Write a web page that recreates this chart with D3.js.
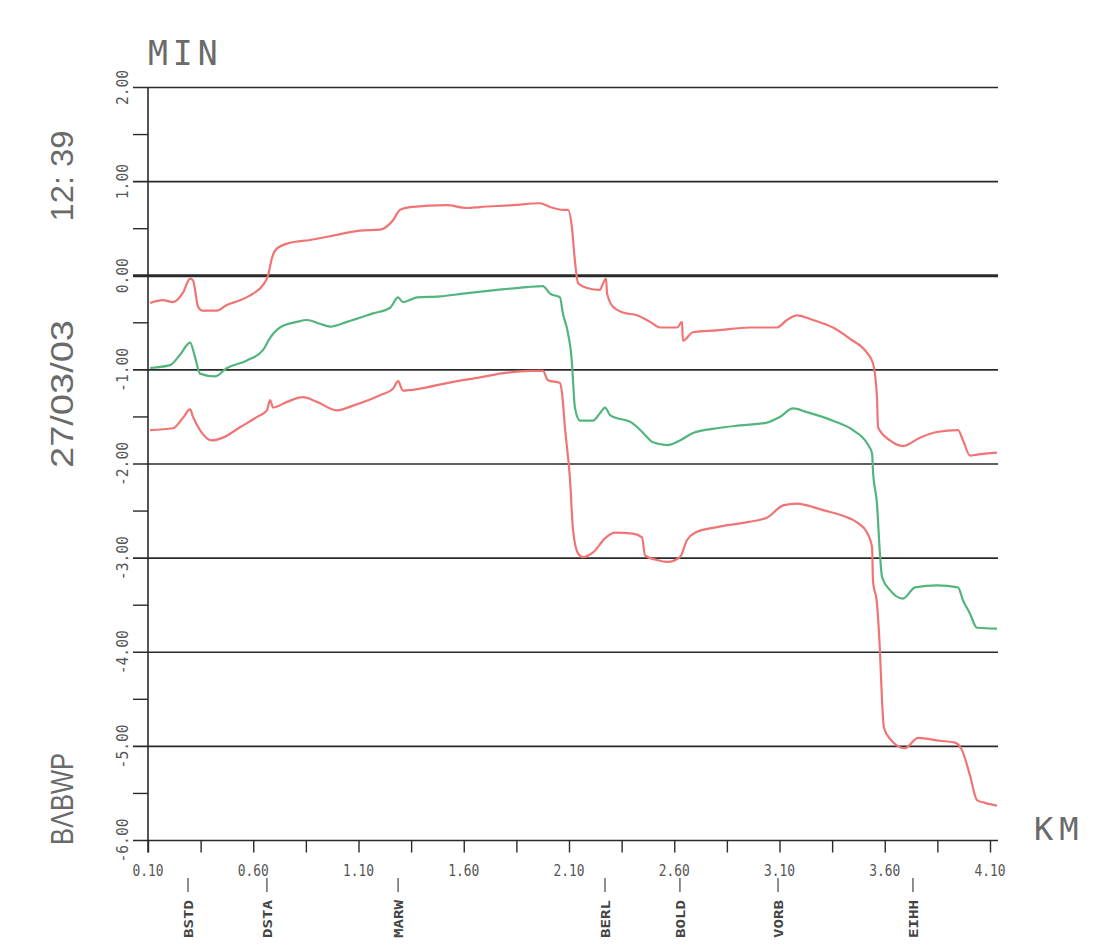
<!DOCTYPE html>
<html>
<head>
<meta charset="utf-8">
<script src="https://cdn.jsdelivr.net/npm/d3@7"></script>
<style>
  body { margin: 0; background: #fff; }
  svg { display: block; }
</style>
</head>
<body>
<div id="chart"></div>
<script>
// delay profile, minutes vs km
const upperRed = [
  [0.11, -0.29], [0.171, -0.26], [0.219, -0.28], [0.266, -0.18], [0.30, -0.03], [0.314, -0.05],
  [0.338, -0.33], [0.357, -0.37], [0.428, -0.37], [0.475, -0.31], [0.537, -0.26], [0.599, -0.19],
  [0.646, -0.10], [0.67, 0.00], [0.689, 0.19], [0.713, 0.29], [0.775, 0.35], [0.87, 0.38],
  [0.965, 0.42], [1.107, 0.48], [1.202, 0.49], [1.264, 0.59], [1.297, 0.70], [1.345, 0.73],
  [1.52, 0.75], [1.615, 0.72], [1.677, 0.73], [1.834, 0.75], [1.962, 0.77], [2.01, 0.73],
  [2.071, 0.70], [2.095, 0.70], [2.114, 0.51], [2.128, 0.16], [2.143, -0.08], [2.186, -0.13],
  [2.247, -0.15], [2.262, -0.08], [2.276, -0.03], [2.281, -0.19], [2.309, -0.33], [2.357, -0.39],
  [2.423, -0.42], [2.485, -0.49], [2.532, -0.55], [2.613, -0.55], [2.637, -0.49], [2.641, -0.69],
  [2.689, -0.60], [2.803, -0.58], [2.96, -0.55], [3.088, -0.55], [3.135, -0.47], [3.183, -0.42],
  [3.259, -0.47], [3.354, -0.55], [3.435, -0.67], [3.516, -0.82], [3.544, -0.93], [3.563, -1.29],
  [3.568, -1.61], [3.625, -1.75], [3.687, -1.81], [3.767, -1.72], [3.848, -1.66], [3.948, -1.64],
  [3.972, -1.75], [4.005, -1.91], [4.038, -1.90], [4.133, -1.88]
];
const middleGreen = [
  [0.11, -0.98], [0.205, -0.95], [0.252, -0.84], [0.30, -0.71], [0.323, -0.86], [0.347, -1.04],
  [0.418, -1.07], [0.475, -0.98], [0.57, -0.90], [0.646, -0.79], [0.68, -0.66], [0.727, -0.55],
  [0.808, -0.49], [0.855, -0.47], [0.917, -0.51], [0.965, -0.54], [1.045, -0.49], [1.169, -0.40],
  [1.25, -0.34], [1.288, -0.23], [1.311, -0.28], [1.378, -0.23], [1.487, -0.22], [1.596, -0.19],
  [1.758, -0.15], [1.90, -0.12], [1.976, -0.11], [2.01, -0.19], [2.057, -0.23], [2.071, -0.40],
  [2.095, -0.61], [2.114, -0.93], [2.119, -1.11], [2.128, -1.40], [2.152, -1.54], [2.214, -1.54],
  [2.247, -1.46], [2.271, -1.40], [2.295, -1.48], [2.404, -1.57], [2.452, -1.67], [2.499, -1.77],
  [2.566, -1.80], [2.627, -1.75], [2.689, -1.67], [2.803, -1.62], [2.912, -1.59], [3.04, -1.56],
  [3.102, -1.50], [3.164, -1.41], [3.231, -1.45], [3.354, -1.54], [3.449, -1.64], [3.516, -1.78],
  [3.54, -1.89], [3.544, -2.07], [3.563, -2.42], [3.577, -2.95], [3.587, -3.20], [3.625, -3.34],
  [3.687, -3.43], [3.744, -3.31], [3.848, -3.29], [3.948, -3.31], [3.972, -3.45], [4.005, -3.59],
  [4.038, -3.74], [4.133, -3.75]
];
const lowerRed = [
  [0.11, -1.64], [0.219, -1.62], [0.266, -1.51], [0.30, -1.42], [0.314, -1.50], [0.347, -1.64],
  [0.404, -1.75], [0.456, -1.72], [0.537, -1.61], [0.618, -1.50], [0.665, -1.43], [0.68, -1.32],
  [0.694, -1.40], [0.76, -1.34], [0.836, -1.29], [0.903, -1.34], [0.998, -1.43], [1.074, -1.38],
  [1.202, -1.27], [1.264, -1.20], [1.288, -1.12], [1.311, -1.22], [1.392, -1.20], [1.52, -1.14],
  [1.677, -1.08], [1.805, -1.03], [1.915, -1.01], [1.976, -1.01], [2.0, -1.11], [2.057, -1.14],
  [2.067, -1.25], [2.081, -1.62], [2.105, -2.17], [2.119, -2.70], [2.143, -2.95], [2.166, -2.99],
  [2.214, -2.94], [2.271, -2.79], [2.319, -2.73], [2.404, -2.74], [2.447, -2.78], [2.461, -2.97],
  [2.518, -3.02], [2.57, -3.04], [2.627, -2.99], [2.66, -2.81], [2.698, -2.73], [2.803, -2.67],
  [2.912, -2.63], [3.04, -2.57], [3.117, -2.44], [3.183, -2.42], [3.231, -2.44], [3.307, -2.49],
  [3.402, -2.55], [3.468, -2.62], [3.516, -2.73], [3.54, -2.89], [3.544, -3.24], [3.563, -3.48],
  [3.577, -3.98], [3.587, -4.51], [3.596, -4.80], [3.625, -4.92], [3.696, -5.02], [3.758, -4.91],
  [3.862, -4.94], [3.934, -4.96], [3.967, -5.04], [4.005, -5.31], [4.038, -5.57], [4.076, -5.60],
  [4.133, -5.63]
];

const yTickValues = [2, 1, 0, -1, -2, -3, -4, -5, -6];
const yTickLabels = ["2.00", "1.00", "0.00", "-1.00", "-2.00", "-3.00", "-4.00", "-5.00", "-6.00"];
const xLabelValues = [0.10, 0.60, 1.10, 1.60, 2.10, 2.60, 3.10, 3.60, 4.10];
const xTickLabels = ["0.10", "0.60", "1.10", "1.60", "2.10", "2.60", "3.10", "3.60", "4.10"];
const stationNames = ["BSTD", "DSTA", "MARW", "BERL", "BOLD", "VORB", "EIHH"];
const stationKm = [0.29, 0.665, 1.288, 2.271, 2.627, 3.093, 3.734];

const width = 1108, height = 945;
const red = "#f07474", green = "#52b57c", ink = "#2a2a2a", grey = "#6a6a6a";
const mono = "'DejaVu Sans Mono', monospace";
const sans = "'Liberation Sans', Arial, sans-serif";

const svg = d3.select("#chart").append("svg")
  .attr("width", width).attr("height", height);
svg.append("rect").attr("width", width).attr("height", height).attr("fill", "#fff");

const x = d3.scaleLinear().domain([0.10, 4.138]).range([148, 998]);
const y = d3.scaleLinear().domain([-6, 2]).range([840.5, 87.5]);
const gridLeft = 133;

// horizontal grid lines at whole minutes
svg.append("g")
  .selectAll("line")
  .data(yTickValues)
  .join("line")
  .attr("x1", gridLeft)
  .attr("x2", x.range()[1])
  .attr("y1", (d) => y(d))
  .attr("y2", (d) => y(d))
  .attr("stroke", ink)
  .attr("stroke-width", (d) => (d === 0 ? 3 : 1.6));

// half-minute ticks on the left
svg.append("g")
  .selectAll("line")
  .data(d3.range(-5.5, 2, 1))
  .join("line")
  .attr("x1", gridLeft)
  .attr("x2", x.range()[0])
  .attr("y1", (d) => y(d))
  .attr("y2", (d) => y(d))
  .attr("stroke", ink)
  .attr("stroke-width", 1.4);

// y axis line
svg.append("line")
  .attr("x1", x.range()[0]).attr("x2", x.range()[0])
  .attr("y1", y(2)).attr("y2", y(-6) + 12)
  .attr("stroke", ink).attr("stroke-width", 1.6);

// y labels, rotated
svg.append("g")
  .selectAll("text")
  .data(yTickValues)
  .join("text")
  .attr("transform", (d) => `translate(128,${y(d)}) rotate(-90)`)
  .attr("text-anchor", "middle")
  .attr("font-family", mono)
  .attr("font-size", 16)
  .attr("textLength", (d, i) => yTickLabels[i].length * 8.8)
  .attr("lengthAdjust", "spacingAndGlyphs")
  .attr("fill", "#555")
  .text((d, i) => yTickLabels[i]);

// x axis ticks every quarter km
const xAxis = d3.axisBottom(x)
  .tickValues(d3.range(0, 17).map((i) => 0.10 + i * 0.25))
  .tickSize(12)
  .tickFormat("");
const gx = svg.append("g")
  .attr("transform", `translate(0,${y(-6)})`)
  .call(xAxis);
gx.select(".domain").remove();
gx.selectAll(".tick line").attr("stroke", ink).attr("stroke-width", 1.4);

svg.append("g")
  .selectAll("text")
  .data(xLabelValues)
  .join("text")
  .attr("x", (d) => x(d))
  .attr("y", 876)
  .attr("text-anchor", "middle")
  .attr("font-family", mono)
  .attr("font-size", 15)
  .attr("textLength", 31)
  .attr("lengthAdjust", "spacingAndGlyphs")
  .attr("fill", "#555")
  .text((d, i) => xTickLabels[i]);

// stations
const st = svg.append("g")
  .selectAll("g")
  .data(stationNames)
  .join("g")
  .attr("transform", (d, i) => `translate(${x(stationKm[i])},0)`);
st.append("line")
  .attr("y1", 878).attr("y2", 892)
  .attr("stroke", "#444").attr("stroke-width", 1.2);
st.append("text")
  .attr("transform", "translate(5,938) rotate(-90)")
  .attr("font-family", mono)
  .attr("font-weight", "bold")
  .attr("font-size", 12)
  .attr("textLength", 38)
  .attr("lengthAdjust", "spacingAndGlyphs")
  .attr("fill", "#444")
  .text((d) => d);

// curves
const line = d3.line()
  .x((d) => x(d[0]))
  .y((d) => y(d[1]))
  .curve(d3.curveMonotoneX);
const series = [
  { data: upperRed, color: red },
  { data: middleGreen, color: green },
  { data: lowerRed, color: red }
];
svg.append("g")
  .selectAll("path")
  .data(series)
  .join("path")
  .attr("d", (d) => line(d.data))
  .attr("fill", "none")
  .attr("stroke", (d) => d.color)
  .attr("stroke-width", 2.2)
  .attr("stroke-linejoin", "round");

// titles
svg.append("text")
  .attr("x", 148).attr("y", 65)
  .attr("font-family", mono)
  .attr("font-size", 33)
  .attr("letter-spacing", 5)
  .attr("fill", grey)
  .text("MIN");
svg.append("text")
  .attr("x", 1034).attr("y", 840)
  .attr("font-family", mono)
  .attr("font-size", 32)
  .attr("letter-spacing", 6)
  .attr("fill", grey)
  .text("KM");

const sideLabels = [
  { text: "12: 39", cy: 176, len: 91 },
  { text: "27/03/03", cy: 394, len: 148 },
  { text: "BΛBWP", cy: 799, len: 92 }
];
svg.append("g")
  .selectAll("text")
  .data(sideLabels)
  .join("text")
  .attr("transform", (d) => `translate(73,${d.cy}) rotate(-90)`)
  .attr("text-anchor", "middle")
  .attr("font-family", sans)
  .attr("font-size", 31)
  .attr("textLength", (d) => d.len)
  .attr("lengthAdjust", "spacingAndGlyphs")
  .attr("fill", grey)
  .text((d) => d.text);
</script>
</body>
</html>
